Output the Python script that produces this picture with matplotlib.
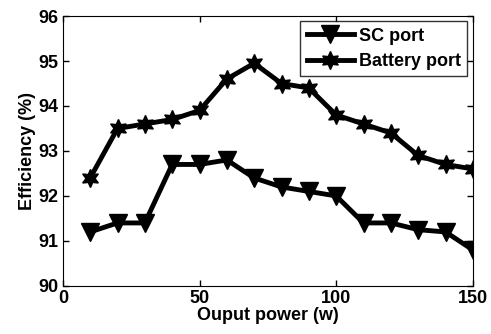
import matplotlib
matplotlib.use("Agg")
import matplotlib.pyplot as plt

plt.rcParams["font.family"] = "Liberation Sans"
plt.rcParams["font.weight"] = "bold"

# Output power (w)
power = [10, 20, 30, 40, 50, 60, 70, 80, 90, 100, 110, 120, 130, 140, 150]

# Efficiency (%)
sc_port = [91.2, 91.4, 91.4, 92.7, 92.7, 92.8, 92.4, 92.2, 92.1, 92.0,
           91.4, 91.4, 91.25, 91.2, 90.8]
battery_port = [92.4, 93.5, 93.6, 93.7, 93.9, 94.6, 94.95, 94.5, 94.4, 93.8,
                93.6, 93.4, 92.9, 92.7, 92.6]

fig = plt.figure(figsize=(4.91, 3.34), dpi=100)
ax = fig.add_axes([0.128, 0.144, 0.835, 0.808])

ax.plot(power, sc_port, color="black", linewidth=3.5, marker="v",
        markersize=13, label="SC port")
ax.plot(power, battery_port, color="black", linewidth=3.5, marker=(6, 1, 0),
        markersize=13, label="Battery port")

ax.set_xlim(0, 150)
ax.set_ylim(90, 96)
ax.set_xticks([0, 50, 100, 150])
ax.set_yticks([90, 91, 92, 93, 94, 95, 96])
ax.tick_params(direction="in", top=True, right=True, labelsize=13,
               length=4, width=1, pad=3)
for lbl in ax.get_xticklabels() + ax.get_yticklabels():
    lbl.set_fontweight("bold")

ax.set_xlabel("Ouput power (w)", fontsize=13, fontweight="bold", labelpad=0)
ax.set_ylabel("Efficiency (%)", fontsize=13, fontweight="bold", labelpad=2)

leg = ax.legend(loc="upper right", fontsize=13, frameon=True, fancybox=False,
                edgecolor="black", handlelength=2.6, borderaxespad=0.3,
                borderpad=0.35, labelspacing=0.45, handletextpad=0.3)
leg.get_frame().set_linewidth(1)
for t in leg.get_texts():
    t.set_fontweight("bold")

plt.savefig("out.png", dpi=100)
